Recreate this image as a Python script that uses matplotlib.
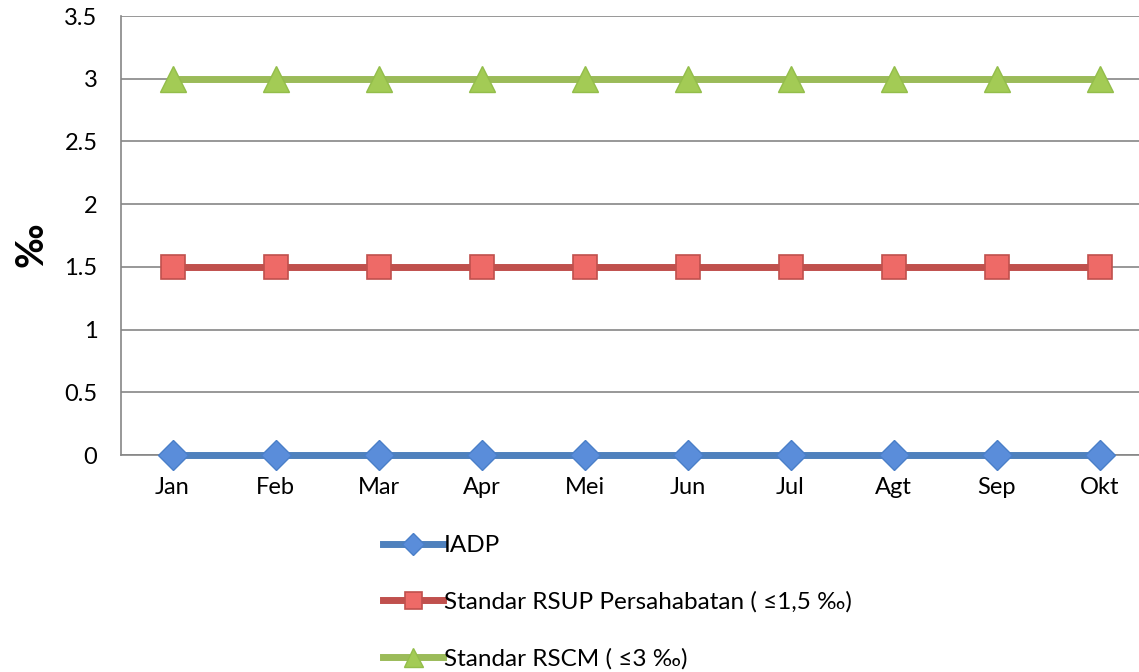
import matplotlib
matplotlib.use("Agg")
import matplotlib.pyplot as plt

months = ["Jan", "Feb", "Mar", "Apr", "Mei", "Jun", "Jul", "Agt", "Sep", "Okt"]
iadp = [0, 0, 0, 0, 0, 0, 0, 0, 0, 0]
std_rsup = [1.5, 1.5, 1.5, 1.5, 1.5, 1.5, 1.5, 1.5, 1.5, 1.5]
std_rscm = [3, 3, 3, 3, 3, 3, 3, 3, 3, 3]
labels = ["IADP", "Standar RSUP Persahabatan ( ≤1,5 ‰)", "Standar RSCM ( ≤3 ‰)"]
yticks = [0, 0.5, 1, 1.5, 2, 2.5, 3, 3.5]
ytick_labels = ["0", "0.5", "1", "1.5", "2", "2.5", "3", "3.5"]

plt.rcParams['font.family'] = ['Lato', 'DejaVu Sans']

fig = plt.figure(figsize=(11.39, 6.72), dpi=100)
ax = fig.add_axes([121/1139, 1-455/672, 1030/1139, (455-16)/672])

x = list(range(len(months)))
l1, = ax.plot(x, iadp, color="#4F81BD", lw=5, marker="D", ms=15,
              mfc="#5A8DDA", mec="#4A7FC8", mew=1, zorder=3, clip_on=False,
              label=labels[0])
l2, = ax.plot(x, std_rsup, color="#C0504D", lw=5, marker="s", ms=17,
              mfc="#EE6A67", mec="#C0504D", mew=1.2, zorder=3, clip_on=False,
              label=labels[1])
l3, = ax.plot(x, std_rscm, color="#9BBB59", lw=5, marker="^", ms=19,
              mfc="#A3CB55", mec="#93BD4A", mew=1, zorder=3, clip_on=False,
              label=labels[2])

ax.set_xlim(-0.5, 9.5)
ax.set_ylim(0, 3.5)
ax.set_yticks(yticks)
ax.set_yticklabels(ytick_labels)
ax.set_xticks(x)
ax.set_xticklabels(months)
ax.grid(axis="y", color="#868686", lw=1.2)
ax.set_axisbelow(True)
for s in ["top", "right"]:
    ax.spines[s].set_visible(False)
for s in ["left", "bottom"]:
    ax.spines[s].set_color("#868686")
    ax.spines[s].set_linewidth(1.2)
ax.tick_params(axis="both", length=0, labelsize=17, colors="black")
ax.tick_params(axis="y", pad=17)
ax.tick_params(axis="x", pad=16)

fig.text(32/1139, 1-245/672, "‰", rotation=90, fontsize=27, fontweight="bold",
         ha="center", va="center")

leg = fig.legend(handles=[l1, l2, l3], loc="upper left",
                 bbox_to_anchor=(383/1139, 1-535/672), frameon=False,
                 fontsize=17.5, handlelength=2.45, handletextpad=0.05,
                 labelspacing=1.45, borderaxespad=0, borderpad=0,
                 markerscale=0.72)

fig.savefig("out.png", dpi=100)
